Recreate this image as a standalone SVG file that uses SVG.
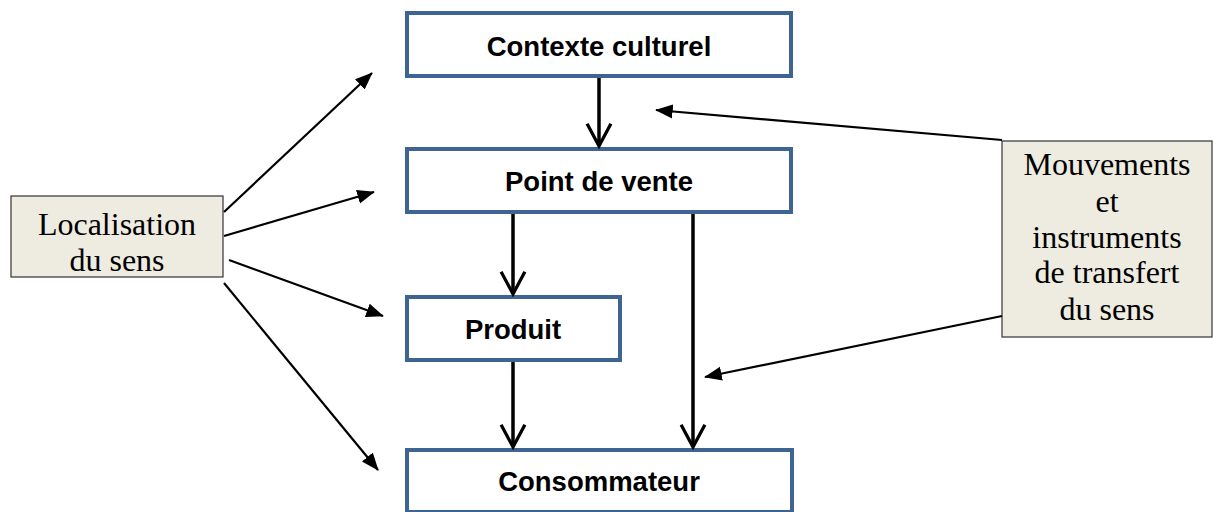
<svg xmlns="http://www.w3.org/2000/svg" width="1213" height="512" viewBox="0 0 1213 512">
<style>
.box{fill:#ffffff;stroke:#3e6592;stroke-width:4}
.side{fill:#eeece1;stroke:#333333;stroke-width:1.2}
.bl{font-family:"Liberation Sans",Arial,sans-serif;font-weight:bold;font-size:27.5px;fill:#000;text-anchor:middle}
.sl{font-family:"Liberation Serif","Times New Roman",serif;font-size:32px;fill:#000;text-anchor:middle}
.v{stroke:#000;stroke-width:3.5;fill:none}
.d{stroke:#000;stroke-width:2.2;fill:none}
</style>
<defs>
<marker id="open" viewBox="0 0 20 20" refX="18" refY="10" markerWidth="8.5" markerHeight="8.5" markerUnits="strokeWidth" orient="auto">
<path d="M3,2 L18,10 L3,18" fill="none" stroke="#000" stroke-width="2.2"/>
</marker>
<marker id="solid" viewBox="0 0 20 20" refX="19" refY="10" markerWidth="8" markerHeight="8" markerUnits="strokeWidth" orient="auto">
<path d="M0,2 L20,10 L0,18 Z" fill="#000"/>
</marker>
</defs>
<g id="contexte"><rect class="box" x="407" y="13" width="384" height="63"/><text class="bl" x="599" y="56">Contexte culturel</text></g>
<g id="point"><rect class="box" x="407" y="149" width="384" height="63"/><text class="bl" x="599" y="191">Point de vente</text></g>
<g id="produit"><rect class="box" x="407" y="297" width="213" height="63"/><text class="bl" x="513" y="339">Produit</text></g>
<g id="consommateur"><rect class="box" x="407" y="450" width="385" height="62"/><text class="bl" x="599" y="491">Consommateur</text></g>
<g id="localisation"><rect class="side" x="11" y="196" width="212" height="81"/><text class="sl" x="117" y="235">Localisation</text><text class="sl" x="117" y="271">du sens</text></g>
<g id="mouvements"><rect class="side" x="1002" y="141" width="210" height="196"/><text class="sl" x="1107" y="175">Mouvements</text><text class="sl" x="1107" y="212">et</text><text class="sl" x="1107" y="248">instruments</text><text class="sl" x="1107" y="283">de transfert</text><text class="sl" x="1107" y="320">du sens</text></g>
<g id="connectors">
<line class="v" x1="599" y1="78" x2="599" y2="146" marker-end="url(#open)"/>
<line class="v" x1="513" y1="214" x2="513" y2="294" marker-end="url(#open)"/>
<line class="v" x1="513" y1="362" x2="513" y2="447" marker-end="url(#open)"/>
<line class="v" x1="693" y1="214" x2="693" y2="447" marker-end="url(#open)"/>
<line class="d" x1="224" y1="212" x2="372" y2="73" marker-end="url(#solid)"/>
<line class="d" x1="224" y1="236" x2="374" y2="192" marker-end="url(#solid)"/>
<line class="d" x1="229" y1="260" x2="383" y2="316" marker-end="url(#solid)"/>
<line class="d" x1="224" y1="283" x2="378" y2="470" marker-end="url(#solid)"/>
<line class="d" x1="1002" y1="140" x2="656" y2="110" marker-end="url(#solid)"/>
<line class="d" x1="1002" y1="316" x2="705" y2="377" marker-end="url(#solid)"/>
</g>
</svg>
